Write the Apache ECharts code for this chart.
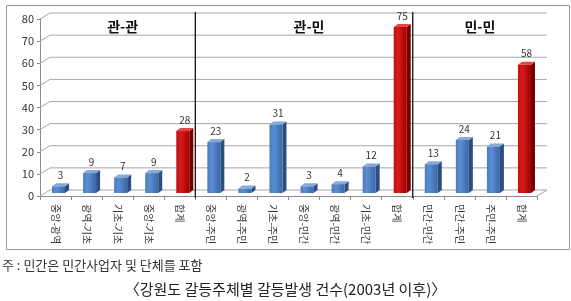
<!DOCTYPE html>
<html><head><meta charset="utf-8">
<script src="https://cdn.jsdelivr.net/npm/echarts@6/dist/echarts.min.js"></script>
<style>html,body{margin:0;padding:0;background:#fff}#c{width:571px;height:301px}</style>
</head><body><div id="c"></div>
<script>
const categories = ['중앙-광역','광역-기초','기초-기초','중앙-기초','합계','중앙-주민','광역-주민','기초-주민','중앙-민간','광역-민간','기초-민간','합계','민간-민간','민간-주민','주민-주민','합계'];
const values = [3,9,7,9,28,23,2,31,3,4,12,75,13,24,21,58];
const groupNames = ['관-관','관-민','민-민'];
const groupSizes = [5,7,4];
const yTicks = [0,10,20,30,40,50,60,70,80];
const footnote = '주 : 민간은 민간사업자 및 단체를 포함';
const caption = '〈강원도 갈등주체별 갈등발생 건수(2003년 이후)〉';

const FONT = '"Noto Sans CJK KR","Noto Sans",sans-serif';
const DX = 10, DY = 6;       // floor/wall depth
const BW = 13, BDX = 4, BDY = 3; // bar width and bar depth
const OX = 3, OY = 3;        // bar placed at mid depth

const chart = echarts.init(document.getElementById('c'), null, {renderer:'canvas'});

function frameItem(params, api) {
  const cs = params.coordSys;
  const x0 = cs.x, x1 = cs.x + cs.width;
  const kids = [];
  const ls = {stroke:'#a6a6a6', lineWidth:1};
  yTicks.forEach(t => {
    const y = api.coord([0, t])[1];
    kids.push({type:'line', shape:{x1:x0+DX, y1:y-DY, x2:x1+DX, y2:y-DY}, style:ls});
    kids.push({type:'line', shape:{x1:x0, y1:y, x2:x0+DX, y2:y-DY}, style:ls});
  });
  const yb = api.coord([0,0])[1];
  kids.push({type:'line', shape:{x1:x1, y1:yb, x2:x1+DX, y2:yb-DY}, style:ls});
  const band = api.size([1,0])[0];
  let start = 0;
  groupSizes.forEach((n, gi) => {
    const cL = api.coord([start, 0])[0] - band/2;
    const cR = api.coord([start + n - 1, 0])[0] + band/2;
    kids.push({type:'text', style:{text:groupNames[gi], x:(cL+cR)/2 + DX/2, y:cs.y + 8, align:'center', verticalAlign:'middle', font:'bold 14px ' + FONT, fill:'#111'}});
    if (gi > 0) {
      kids.push({type:'line', shape:{x1:cL, y1:cs.y - DY - 1, x2:cL, y2:yb + 2}, style:{stroke:'#111', lineWidth:1.3}});
    }
    start += n;
  });
  return {type:'group', children:kids};
}

function barItem(params, api) {
  const idx = api.value(0), v = api.value(1);
  const c = api.coord([idx, v]);
  const b = api.coord([idx, 0]);
  const total = categories[idx] === '합계';
  const xl = c[0] + OX - BW/2, xr = xl + BW;
  const yt = c[1] - OY, yb = b[1] - OY;
  const front = total
    ? new echarts.graphic.LinearGradient(0,0,1,0,[{offset:0,color:'#c41010'},{offset:0.35,color:'#d81a1a'},{offset:1,color:'#a00000'}])
    : new echarts.graphic.LinearGradient(0,0,1,0,[{offset:0,color:'#4a7cc0'},{offset:0.35,color:'#5b8dd0'},{offset:1,color:'#3a67a6'}]);
  const side = total ? '#760000' : '#2b4e80';
  const top = total ? '#e04848' : '#86a9da';
  return {type:'group', children:[
    {type:'polygon', shape:{points:[[xr,yb],[xr+BDX,yb-BDY],[xr+BDX,yt-BDY],[xr,yt]]}, style:{fill:side}},
    {type:'polygon', shape:{points:[[xl,yt],[xr,yt],[xr+BDX,yt-BDY],[xl+BDX,yt-BDY]]}, style:{fill:top}},
    {type:'rect', shape:{x:xl, y:yt, width:BW, height:yb-yt}, style:{fill:front}},
    {type:'text', style:{text:String(v), x:(xl+xr+BDX)/2, y:yt - BDY - 3, align:'center', verticalAlign:'bottom', font:'10px ' + FONT, fill:'#333'}}
  ]};
}

chart.setOption({
  animation:false,
  backgroundColor:'#fff',
  grid:{left:40, right:34, top:19, bottom:105},
  xAxis:{type:'category', data:categories, boundaryGap:true,
    axisLine:{show:true, lineStyle:{color:'#8c8c8c'}},
    axisTick:{show:true, length:4, lineStyle:{color:'#8c8c8c'}},
    axisLabel:{interval:0, rotate:-90, margin:8, fontSize:10, color:'#333', fontFamily:FONT},
    splitLine:{show:false}},
  yAxis:{type:'value', min:0, max:80, interval:10,
    axisLine:{show:true, lineStyle:{color:'#8c8c8c'}},
    axisTick:{show:true, length:3, lineStyle:{color:'#8c8c8c'}},
    axisLabel:{fontSize:11, color:'#333', margin:6, fontFamily:FONT},
    splitLine:{show:false}},
  graphic:[
    {type:'rect', left:4, top:3, shape:{width:563, height:244}, style:{fill:null, stroke:'#999', lineWidth:1}, silent:true},
    {type:'text', left:2, top:259, style:{text:footnote, font:'13px ' + FONT, fill:'#333'}},
    {type:'text', left:'center', top:282, style:{text:caption, font:'15px ' + FONT, fill:'#222'}}
  ],
  series:[
    {type:'custom', renderItem:frameItem, data:[[0,0]], clip:false, z:1, silent:true},
    {type:'custom', renderItem:barItem, data:values.map((v,i)=>[i,v]), clip:false, z:3, silent:true}
  ]
});
</script></body></html>
